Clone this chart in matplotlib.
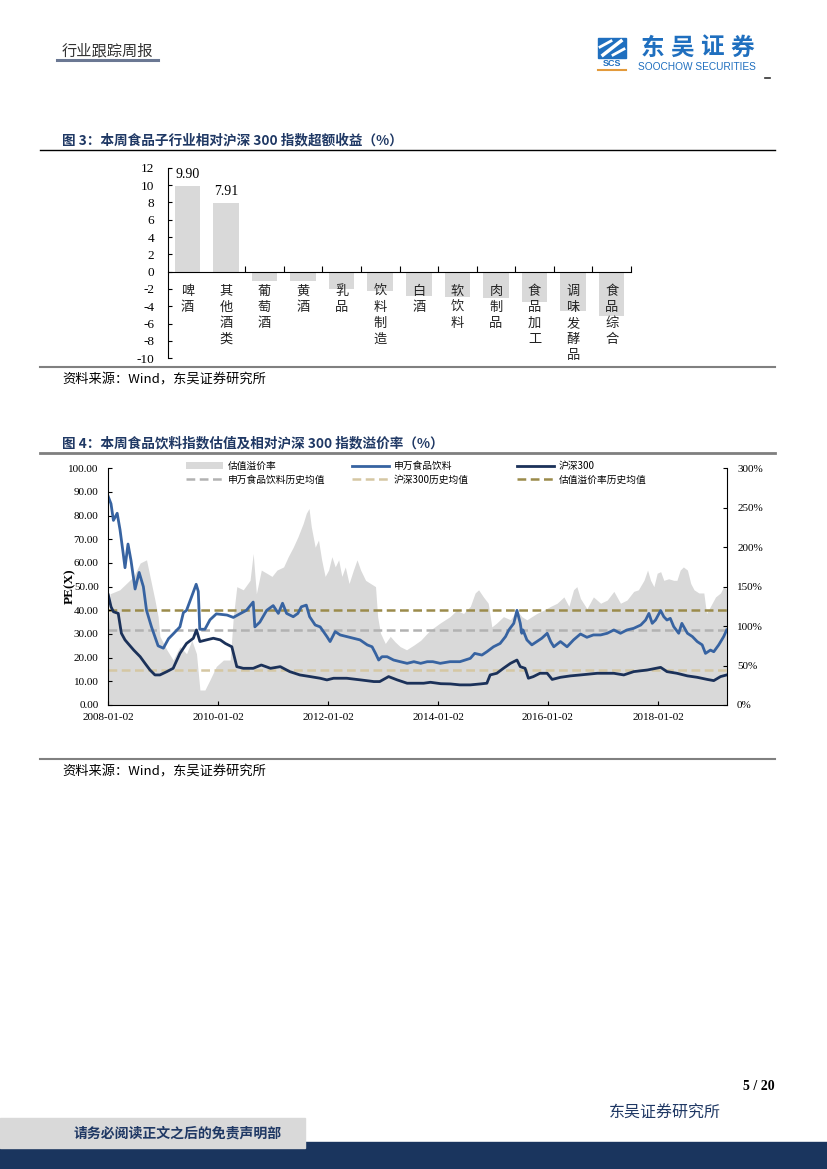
import matplotlib
matplotlib.use("Agg")
import matplotlib.pyplot as plt
from matplotlib.patches import Rectangle, Patch
from matplotlib.lines import Line2D
import numpy as np
import pandas as pd

plt.rcParams['font.family'] = ['Noto Sans CJK SC', 'DejaVu Sans']
plt.rcParams['axes.unicode_minus'] = False

NAVY = "#1f3864"
SERIF = "Liberation Serif"

# ---------------- figure 3 data: sub-industry excess return (%)
sub_names = ["啤酒", "其他酒类", "葡萄酒", "黄酒", "乳品", "饮料制造", "白酒",
             "软饮料", "肉制品", "食品加工", "调味发酵品", "食品综合"]
sub_excess = [9.90, 7.91, -1.07, -1.12, -2.00, -2.20, -2.77, -2.88, -3.07, -3.46, -4.50, -5.07]
sub_labelled = 2  # only the first two bars carry a value label

# ---------------- figure 4 data: PE of SW food & beverage
food_dates = ["2008-01-02", "2008-01-20", "2008-02-05", "2008-03-01", "2008-03-20", "2008-04-10",
              "2008-04-22", "2008-05-12", "2008-06-01", "2008-06-28", "2008-07-25", "2008-08-22",
              "2008-09-12", "2008-10-15", "2008-11-28", "2009-01-02", "2009-02-05", "2009-03-08",
              "2009-04-22", "2009-05-15", "2009-06-05", "2009-07-10", "2009-08-08", "2009-08-22",
              "2009-09-01", "2009-10-05", "2009-11-08", "2009-12-20", "2010-03-01", "2010-04-12",
              "2010-05-25", "2010-07-08", "2010-08-22", "2010-09-02", "2010-10-05", "2010-11-20",
              "2011-01-02", "2011-02-05", "2011-03-05", "2011-04-01", "2011-05-15", "2011-06-15",
              "2011-07-08", "2011-08-10", "2011-09-01", "2011-10-08", "2011-11-10", "2011-12-25",
              "2012-01-15", "2012-02-18", "2012-03-22", "2012-05-05", "2012-06-18", "2012-08-01",
              "2012-09-18", "2012-10-20", "2012-11-12", "2012-12-03", "2012-12-25", "2013-01-28",
              "2013-03-12", "2013-04-25", "2013-06-10", "2013-07-25", "2013-09-08", "2013-10-22",
              "2013-11-28", "2014-01-16", "2014-03-22", "2014-05-27", "2014-08-04", "2014-09-02",
              "2014-10-20", "2014-11-22", "2015-01-05", "2015-02-18", "2015-03-26", "2015-04-17",
              "2015-05-20", "2015-06-10", "2015-07-02", "2015-07-12", "2015-07-20", "2015-08-15",
              "2015-09-17", "2015-10-20", "2015-11-22", "2015-12-28", "2016-01-20", "2016-02-10",
              "2016-03-25", "2016-05-08", "2016-06-20", "2016-08-05", "2016-09-17", "2016-10-30",
              "2016-12-17", "2017-01-30", "2017-03-15", "2017-04-28", "2017-06-10", "2017-07-25",
              "2017-09-10", "2017-10-12", "2017-11-03", "2017-11-25", "2017-12-17", "2018-01-20",
              "2018-02-10", "2018-03-03", "2018-03-25", "2018-04-17", "2018-05-20", "2018-06-10",
              "2018-07-17", "2018-08-19", "2018-09-20", "2018-10-23", "2018-11-14", "2018-12-17",
              "2019-01-08", "2019-02-10", "2019-03-15", "2019-04-04"]
food_pe = [88.0, 85.0, 78.0, 81.0, 74.0, 64.0,
           58.0, 68.0, 61.0, 49.0, 56.0, 50.0,
           40.0, 33.0, 25.0, 24.0, 28.0, 30.0,
           33.0, 39.0, 40.0, 46.0, 51.0, 48.0,
           32.0, 32.0, 36.0, 38.5, 38.0, 37.0,
           38.5, 40.0, 43.5, 33.0, 35.0, 40.0,
           42.0, 38.7, 43.0, 38.7, 37.3, 38.7,
           41.5, 42.2, 37.3, 33.8, 33.0, 28.9,
           26.8, 31.0, 29.6, 28.9, 28.2, 27.5,
           25.4, 24.6, 21.8, 19.0, 20.4, 20.4,
           19.0, 18.3, 17.6, 18.3, 17.6, 18.3,
           18.3, 17.6, 18.3, 18.3, 19.7, 21.8,
           21.1, 22.5, 24.6, 26.0, 28.9, 31.7,
           34.5, 40.0, 34.5, 30.3, 31.7, 27.5,
           25.4, 26.8, 28.2, 30.3, 26.8, 24.6,
           26.8, 24.6, 27.5, 30.0, 28.6, 29.6,
           29.6, 30.3, 31.7, 30.3, 31.7, 32.4,
           33.8, 35.9, 38.7, 34.5, 35.9, 39.9,
           37.3, 35.9, 36.6, 33.1, 30.3, 34.5,
           30.3, 28.9, 26.8, 25.4, 21.8, 23.2,
           22.5, 25.4, 28.9, 31.7]

# PE of CSI 300
hs_dates = ["2008-01-02", "2008-01-20", "2008-02-05", "2008-03-08", "2008-03-29", "2008-04-22",
            "2008-05-12", "2008-06-19", "2008-08-01", "2008-09-02", "2008-10-05", "2008-11-07",
            "2008-12-10", "2009-01-25", "2009-03-08", "2009-04-22", "2009-06-05", "2009-07-20",
            "2009-08-10", "2009-09-02", "2009-10-15", "2009-11-30", "2010-01-15", "2010-02-18",
            "2010-04-02", "2010-05-05", "2010-06-17", "2010-08-22", "2010-10-15", "2010-12-15",
            "2011-02-18", "2011-04-22", "2011-06-28", "2011-09-05", "2011-11-10", "2011-12-25",
            "2012-02-07", "2012-05-05", "2012-08-05", "2012-11-01", "2012-12-10", "2013-02-07",
            "2013-04-05", "2013-06-10", "2013-09-28", "2013-11-12", "2014-01-20", "2014-03-25",
            "2014-05-27", "2014-08-04", "2014-10-10", "2014-11-22", "2014-12-14", "2015-01-27",
            "2015-03-12", "2015-04-28", "2015-06-10", "2015-07-02", "2015-08-03", "2015-08-25",
            "2015-09-27", "2015-11-10", "2015-12-28", "2016-01-30", "2016-03-25", "2016-05-30",
            "2016-08-05", "2016-11-25", "2017-03-15", "2017-05-20", "2017-07-25", "2017-10-25",
            "2018-01-20", "2018-03-03", "2018-05-08", "2018-07-17", "2018-09-20", "2018-11-26",
            "2019-01-08", "2019-02-22", "2019-04-04"]
hs_pe = [46.5, 41.5, 39.4, 38.7, 30.3, 27.5,
         26.0, 23.2, 20.4, 17.6, 14.8, 12.7,
         12.7, 14.1, 15.5, 21.8, 26.0, 28.2,
         31.7, 26.8, 27.5, 28.2, 27.5, 26.0,
         24.6, 16.2, 15.5, 15.5, 16.9, 15.5,
         16.2, 14.1, 12.7, 12.0, 11.3, 10.6,
         11.3, 11.3, 10.6, 9.9, 9.9, 12.0,
         10.6, 9.2, 9.2, 9.6, 9.0, 8.9,
         8.5, 8.5, 8.9, 9.2, 12.7, 13.4,
         15.5, 17.6, 19.0, 16.2, 15.5, 11.3,
         12.0, 13.4, 13.4, 10.8, 11.7, 12.3,
         12.7, 13.4, 13.4, 12.7, 14.1, 14.8,
         15.9, 14.1, 13.4, 12.3, 11.7, 10.8,
         10.3, 12.0, 12.7]

# valuation premium (%), right axis
prem_dates = ["2008-01-02", "2008-01-14", "2008-03-18", "2008-05-01", "2008-06-19", "2008-08-01",
              "2008-09-12", "2008-10-05", "2008-11-07", "2008-11-28", "2008-12-10", "2009-01-25",
              "2009-03-08", "2009-04-22", "2009-06-05", "2009-07-10", "2009-08-10", "2009-09-02",
              "2009-10-05", "2009-11-08", "2009-12-20", "2010-02-05", "2010-03-22", "2010-04-12",
              "2010-05-05", "2010-06-17", "2010-08-01", "2010-08-22", "2010-09-12", "2010-10-15",
              "2010-11-20", "2010-12-25", "2011-01-27", "2011-03-12", "2011-04-12", "2011-05-15",
              "2011-06-15", "2011-07-20", "2011-08-10", "2011-08-28", "2011-09-12", "2011-10-08",
              "2011-10-30", "2011-11-20", "2011-12-13", "2012-01-05", "2012-01-27", "2012-02-18",
              "2012-03-12", "2012-04-02", "2012-04-25", "2012-05-20", "2012-06-18", "2012-07-12",
              "2012-08-05", "2012-09-07", "2012-10-10", "2012-11-12", "2012-11-26", "2012-12-15",
              "2013-01-16", "2013-02-18", "2013-03-22", "2013-04-25", "2013-06-06", "2013-07-25",
              "2013-09-08", "2013-10-22", "2013-11-12", "2014-01-16", "2014-03-22", "2014-05-05",
              "2014-06-20", "2014-08-04", "2014-09-05", "2014-09-28", "2014-10-30", "2014-12-01",
              "2014-12-25", "2015-01-27", "2015-03-12", "2015-04-28", "2015-06-10", "2015-07-12",
              "2015-08-15", "2015-09-17", "2015-10-20", "2015-12-03", "2016-01-20", "2016-03-03",
              "2016-04-17", "2016-05-20", "2016-06-20", "2016-07-12", "2016-08-05", "2016-09-17",
              "2016-10-30", "2016-12-17", "2017-01-30", "2017-03-15", "2017-04-28", "2017-06-10",
              "2017-07-25", "2017-08-25", "2017-10-01", "2017-10-25", "2017-11-14", "2017-12-06",
              "2017-12-28", "2018-01-20", "2018-02-10", "2018-03-14", "2018-04-17", "2018-05-08",
              "2018-05-30", "2018-06-20", "2018-07-17", "2018-08-08", "2018-08-30", "2018-10-01",
              "2018-11-03", "2018-11-21", "2018-12-17", "2019-01-20", "2019-02-22", "2019-03-15",
              "2019-04-04"]
prem_pct = [95, 141, 146, 154, 163, 180,
            184, 163, 133, 112, 87, 70,
            57, 74, 65, 82, 65, 19,
            19, 32, 49, 57, 57, 112,
            150, 146, 158, 192, 141, 171,
            167, 163, 171, 175, 188, 200,
            213, 230, 243, 249, 226, 200,
            209, 184, 163, 171, 188, 175,
            184, 163, 175, 154, 171, 184,
            171, 158, 154, 150, 112, 91,
            78, 87, 80, 74, 70, 76,
            82, 91, 95, 104, 112, 120,
            116, 125, 142, 146, 137, 129,
            99, 104, 112, 108, 120, 112,
            108, 112, 116, 120, 125, 129,
            137, 125, 146, 150, 135, 122,
            137, 129, 133, 144, 129, 133,
            144, 146, 158, 171, 158, 150,
            167, 169, 158, 160, 158, 158,
            171, 175, 171, 154, 146, 142,
            142, 116, 125, 137, 142, 150,
            146]

food_mean = 31.7    # 申万食品饮料历史均值
hs_mean = 14.8      # 沪深300历史均值
prem_mean = 121     # 估值溢价率历史均值 (%)

date_ticks = ["2008-01-02", "2010-01-02", "2012-01-02", "2014-01-02", "2016-01-02", "2018-01-02"]


def fx(x):
    return x / 827.0


def fy(y):
    return 1 - y / 1169.0


def hline(fig, x0, x1, y, color, lw):
    fig.add_artist(Line2D([fx(x0), fx(x1)], [fy(y), fy(y)], color=color, lw=lw))


def draw_header(fig):
    """
    page header: report type on the left, company logo on the right
    """
    fig.text(fx(62), fy(51), "行业跟踪周报", fontsize=11, color="#333333", va="center")
    hline(fig, 57, 158, 60, "#6b7893", 2.2)

    blue = "#1f6fbf"
    fig.add_artist(Rectangle((fx(598), fy(58)), fx(28), 20 / 1169, color=blue))
    fig.add_artist(Line2D([fx(603), fx(621)], [fy(55), fy(41)], color="white", lw=2.5))
    fig.add_artist(Line2D([fx(600), fx(611)], [fy(47), fy(41)], color="white", lw=2.0))
    fig.add_artist(Line2D([fx(613), fx(624)], [fy(55), fy(49)], color="white", lw=2.0))
    fig.text(fx(612), fy(64), "SCS", fontsize=6.5, fontweight="bold", color=blue,
             ha="center", va="center", family="Liberation Sans")
    hline(fig, 598, 626, 69.5, "#e39a3b", 1.5)
    for k, ch in enumerate("东吴证券"):
        fig.text(fx(652 + 30 * k), fy(48), ch, fontsize=17, fontweight="bold", color=blue,
                 ha="center", va="center")
    fig.text(fx(697), fy(67.5), "SOOCHOW SECURITIES", fontsize=7.3, color=blue,
             ha="center", va="center", family="Liberation Sans")
    hline(fig, 765, 770, 78, "#333333", 1.2)


def draw_bar_chart(fig):
    """
    figure 3: bar chart of the excess return of each sub-industry
    """
    fig.text(fx(62), fy(140), "图 3：本周食品子行业相对沪深 300 指数超额收益（%）",
             fontsize=9.8, fontweight="bold", color=NAVY, va="center")
    hline(fig, 40, 775, 150, "black", 1.0)

    ax = fig.add_axes([fx(168), fy(358.3), fx(631) - fx(168), (358.3 - 167.7) / 1169])
    xs = np.arange(len(sub_names))
    ax.bar(xs, sub_excess, width=0.66, color="#d9d9d9", zorder=1)
    ax.set_xlim(-0.5, len(sub_names) - 0.5)
    ax.set_ylim(-10, 12)
    ax.set_yticks(np.arange(-10, 13, 2))
    ax.spines["top"].set_visible(False)
    ax.spines["right"].set_visible(False)
    ax.spines["bottom"].set_position(("data", 0))
    ax.spines["bottom"].set_zorder(3)
    ax.set_xticks(np.arange(1.5, len(sub_names), 1))
    ax.set_xticklabels([])
    ax.tick_params(axis="x", direction="in", length=4, width=0.8)
    ax.tick_params(axis="y", direction="in", length=3, width=0.8, labelsize=9.5, pad=10)
    for lab in ax.get_yticklabels():
        lab.set_family(SERIF)

    for i, name in enumerate(sub_names):
        ax.text(xs[i], -1.5, "\n".join(name), ha="center", va="top", fontsize=9.5,
                linespacing=1.3, color="#222222")
    for i in range(sub_labelled):
        ax.text(xs[i], sub_excess[i] + 0.6, f"{sub_excess[i]:.2f}", ha="center", va="bottom",
                fontsize=10, family=SERIF)

    hline(fig, 40, 775, 367, "#808080", 1.5)
    fig.text(fx(62), fy(380), "资料来源：Wind，东吴证券研究所", fontsize=9.5, va="center")


def draw_pe_chart(fig):
    """
    figure 4: PE of food & beverage vs CSI 300 and the valuation premium
    """
    fig.text(fx(62), fy(443), "图 4：本周食品饮料指数估值及相对沪深 300 指数溢价率（%）",
             fontsize=9.8, fontweight="bold", color=NAVY, va="center")
    hline(fig, 40, 775, 453, "#7f7f7f", 2.0)

    ax = fig.add_axes([fx(108.3), fy(705), fx(726.7) - fx(108.3), (705 - 468.3) / 1169])
    ax2 = ax.twinx()
    ax.set_zorder(ax2.get_zorder() + 1)
    ax.patch.set_visible(False)

    c_fill = "#d9d9d9"
    c_food = "#3763a1"
    c_hs = "#1b3159"
    c_food_mean = "#b2b2b2"
    c_hs_mean = "#d5c7a3"
    c_prem_mean = "#9b8b4b"
    dash = (0, (3.5, 1.8))

    ax2.fill_between(pd.to_datetime(prem_dates), 0, prem_pct, color=c_fill, lw=0)
    ax2.axhline(prem_mean, color=c_prem_mean, lw=1.8, ls=dash)
    ax.axhline(food_mean, color=c_food_mean, lw=1.8, ls=dash)
    ax.axhline(hs_mean, color=c_hs_mean, lw=1.8, ls=dash)
    ax.plot(pd.to_datetime(food_dates), food_pe, color=c_food, lw=2.0)
    ax.plot(pd.to_datetime(hs_dates), hs_pe, color=c_hs, lw=2.0)

    ax.set_xlim(pd.Timestamp("2008-01-02"), pd.Timestamp("2019-04-04"))
    ax.set_ylim(0, 100)
    ax2.set_ylim(0, 300)
    ax.set_yticks(np.arange(0, 101, 10))
    ax.set_yticklabels([f"{v:.2f}" for v in np.arange(0, 101, 10)])
    ax2.set_yticks(np.arange(0, 301, 50))
    ax2.set_yticklabels([f"{v}%" for v in range(0, 301, 50)])
    ax.set_xticks(pd.to_datetime(date_ticks))
    ax.set_xticklabels(date_ticks)

    for s in ["top", "right"]:
        ax.spines[s].set_visible(False)
    for s in ["top", "left", "bottom"]:
        ax2.spines[s].set_visible(False)
    ax.tick_params(axis="y", direction="in", length=3, width=0.8, labelsize=8, pad=7)
    ax.tick_params(axis="x", direction="in", length=3, width=0.8, labelsize=8, pad=6)
    ax2.tick_params(direction="in", length=3, width=0.8, labelsize=8, pad=7.5)
    for lab in ax.get_yticklabels() + ax.get_xticklabels() + ax2.get_yticklabels():
        lab.set_family(SERIF)

    fig.text(fx(70), fy(586), "PE(X)", rotation=90, fontsize=9.5, fontweight="bold",
             family=SERIF, ha="center", va="center")

    # legend: three columns of two entries
    solid = lambda c: Line2D([], [], color=c, lw=2.0)
    dashed = lambda c: Line2D([], [], color=c, lw=1.8, ls=dash)
    columns = [
        (186, [Patch(facecolor=c_fill, edgecolor="none"), dashed(c_food_mean)],
         ["估值溢价率", "申万食品饮料历史均值"]),
        (352, [solid(c_food), dashed(c_hs_mean)], ["申万食品饮料", "沪深300历史均值"]),
        (517, [solid(c_hs), dashed(c_prem_mean)], ["沪深300", "估值溢价率历史均值"]),
    ]
    for x0, handles, labels in columns:
        leg = ax.legend(handles, labels, loc="upper left", bbox_to_anchor=(fx(x0), fy(461)),
                        bbox_transform=fig.transFigure, frameon=False, fontsize=7,
                        borderpad=0, borderaxespad=0, handlelength=3.8, handletextpad=0.5,
                        labelspacing=0.35)
        ax.add_artist(leg)
    ax.legend_ = None  # the last legend is already added as an artist

    hline(fig, 40, 775, 759, "#808080", 1.5)
    fig.text(fx(62), fy(772), "资料来源：Wind，东吴证券研究所", fontsize=9.5, va="center")


def draw_footer(fig):
    """
    page number, company name and the disclaimer band
    """
    fig.text(fx(775), fy(1086), "5 / 20", fontsize=10, fontweight="bold", family=SERIF,
             ha="right", va="center")
    fig.text(fx(665), fy(1113), "东吴证券研究所", fontsize=11.5, color=NAVY,
             ha="center", va="center")
    fig.add_artist(Rectangle((0, fy(1169)), 1, (1169 - 1142) / 1169, color="#1a355e"))
    fig.add_artist(Rectangle((0, fy(1148)), fx(305), 30 / 1169, color="#d9d9d9"))
    fig.text(fx(178), fy(1133), "请务必阅读正文之后的免责声明部", fontsize=10,
             fontweight="bold", color=NAVY, ha="center", va="center")


fig = plt.figure(figsize=(8.27, 11.69), dpi=100)
draw_header(fig)
draw_bar_chart(fig)
draw_pe_chart(fig)
draw_footer(fig)
fig.savefig("out.png", dpi=100)
